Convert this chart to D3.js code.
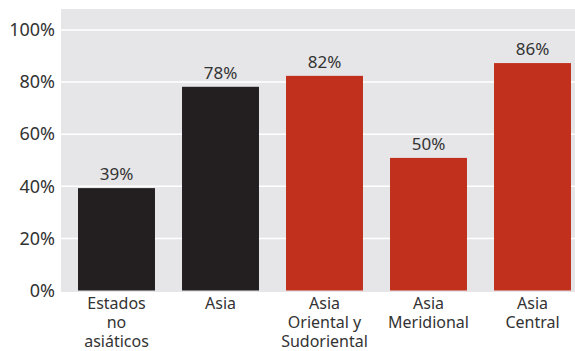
<!DOCTYPE html>
<html><head><meta charset="utf-8">
<script src="https://cdn.jsdelivr.net/npm/d3@7"></script>
<style>body{margin:0;background:#fff}svg{display:block}text{font-family:"Noto Sans",sans-serif;fill:#333}</style>
</head><body><svg id="c" width="575" height="351"></svg>
<script>
const categories = [["Estados","no","asiáticos"],["Asia"],["Asia","Oriental y","Sudoriental"],["Asia","Meridional"],["Asia","Central"]];
const values = [0.393, 0.782, 0.824, 0.509, 0.873];
const valueLabels = ["39%","78%","82%","50%","86%"];
const barColors = ["#231f20","#231f20","#c0301c","#c0301c","#c0301c"];
const yTicks = [0, 0.2, 0.4, 0.6, 0.8, 1.0];

const svg = d3.select("#c");
const plot = {left:61, right:575, top:9, bottom:292};
const y = d3.scaleLinear().domain([0, 1]).range([290.5, 30]);
const x = d3.scaleBand().domain(d3.range(values.length)).range([64.5, 584.5]).paddingInner(0.26).paddingOuter(0.13);

svg.append("rect").attr("x",plot.left).attr("y",plot.top).attr("width",plot.right-plot.left).attr("height",plot.bottom-plot.top).attr("fill","#e6e6e8");

svg.append("g").selectAll("line").data(yTicks.filter(d=>d>0)).join("line")
  .attr("x1",plot.left).attr("x2",plot.right).attr("y1",d=>y(d)).attr("y2",d=>y(d))
  .attr("stroke","#fff").attr("stroke-width",1.5);

const yAxis = d3.axisLeft(y).tickValues(yTicks).tickFormat(d3.format(".0%")).tickSize(0).tickPadding(6);
const ga = svg.append("g").attr("transform",`translate(${plot.left},0)`).call(yAxis);
ga.select(".domain").remove();
ga.selectAll("text").style("font-size","18px").attr("fill","#333").attr("font-family","Noto Sans");

svg.append("g").selectAll("rect").data(values).join("rect")
  .attr("x",(d,i)=>x(i)).attr("width",x.bandwidth())
  .attr("y",d=>y(d)).attr("height",d=>y(0)-y(d)).attr("fill",(d,i)=>barColors[i]);

svg.append("g").selectAll("text").data(values).join("text")
  .attr("x",(d,i)=>x(i)+x.bandwidth()/2).attr("y",d=>y(d)-8)
  .attr("text-anchor","middle").style("font-size","17px")
  .text((d,i)=>valueLabels[i]);

const cg = svg.append("g").selectAll("text").data(categories).join("text")
  .attr("text-anchor","middle").style("font-size","16px")
  .attr("transform",(d,i)=>`translate(${x(i)+x.bandwidth()/2},0)`);
cg.selectAll("tspan").data(d=>d).join("tspan")
  .attr("x",0).attr("y",(d,j)=>309+j*19).text(d=>d);
</script></body></html>
